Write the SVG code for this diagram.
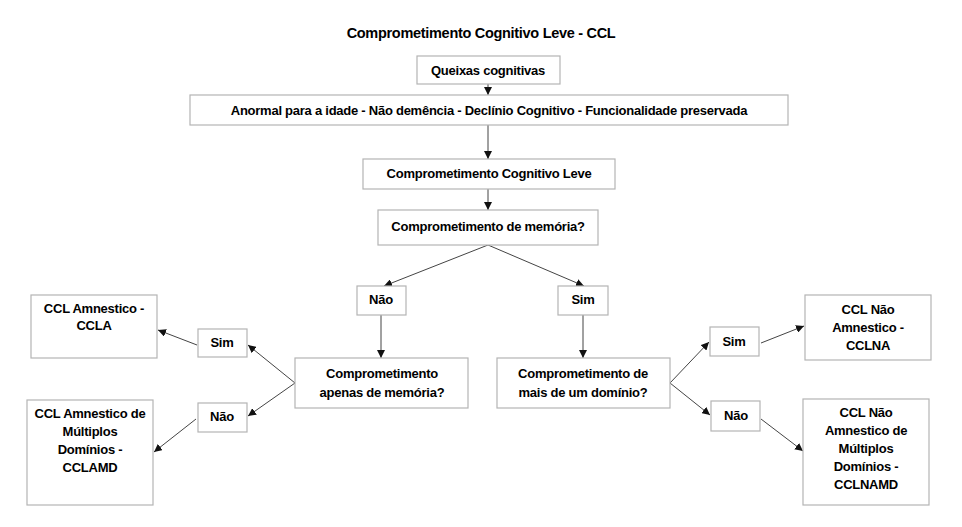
<svg xmlns="http://www.w3.org/2000/svg" width="962" height="527" viewBox="0 0 962 527">
<defs>
<marker id="ah" viewBox="0 0 10 10" refX="10" refY="5" markerWidth="8" markerHeight="8" orient="auto" markerUnits="userSpaceOnUse">
<path d="M0,0 L10,5 L0,10 z" fill="#111"/>
</marker>
</defs>
<style>
.b{fill:#fff;stroke:#b4b4b4;stroke-width:1.2}
.t{font-family:"Liberation Sans",Arial,sans-serif;font-weight:bold;font-size:13px;fill:#000;text-anchor:middle;letter-spacing:-0.25px}
.c{stroke:#444;stroke-width:1;fill:none;marker-end:url(#ah)}
</style>
<rect width="962" height="527" fill="#fff"/>
<text class="t" x="481" y="38" style="font-size:14.5px;letter-spacing:-0.3px">Comprometimento Cognitivo Leve - CCL</text>
<g id="connectors">
<line class="c" x1="488" y1="84" x2="488" y2="95"/>
<line class="c" x1="488" y1="125" x2="488" y2="159"/>
<line class="c" x1="488" y1="189" x2="488" y2="210"/>
<line class="c" x1="488" y1="245" x2="384" y2="286"/>
<line class="c" x1="488" y1="245" x2="584" y2="286"/>
<line class="c" x1="381" y1="315" x2="381" y2="358"/>
<line class="c" x1="583" y1="315" x2="583" y2="358"/>
<line class="c" x1="295" y1="383" x2="248" y2="345"/>
<line class="c" x1="295" y1="383" x2="248" y2="416"/>
<line class="c" x1="197" y1="345" x2="158" y2="330"/>
<line class="c" x1="196" y1="419" x2="154" y2="452"/>
<line class="c" x1="670" y1="383" x2="709" y2="342"/>
<line class="c" x1="670" y1="383" x2="710" y2="415"/>
<line class="c" x1="761" y1="343" x2="804" y2="326"/>
<line class="c" x1="761" y1="419" x2="803" y2="451"/>
</g>
<g id="queixas"><rect class="b" x="417" y="56" width="143" height="28"/><text class="t" x="488" y="75">Queixas cognitivas</text></g>
<g id="anormal"><rect class="b" x="190" y="95" width="598" height="30"/><text class="t" x="489" y="115">Anormal para a idade - Não demência - Declínio Cognitivo - Funcionalidade preservada</text></g>
<g id="ccl"><rect class="b" x="363" y="159" width="252" height="30"/><text class="t" x="489" y="178">Comprometimento Cognitivo Leve</text></g>
<g id="memoria"><rect class="b" x="378" y="210" width="220" height="35"/><text class="t" x="488" y="231">Comprometimento de memória?</text></g>
<g id="nao1"><rect class="b" x="357" y="286" width="49" height="29"/><text class="t" x="381" y="304">Não</text></g>
<g id="sim1"><rect class="b" x="558" y="286" width="50" height="29"/><text class="t" x="583" y="304">Sim</text></g>
<g id="apenas"><rect class="b" x="295" y="358" width="173" height="50"/><text class="t" x="382" y="378">Comprometimento</text><text class="t" x="382" y="397">apenas de memória?</text></g>
<g id="mais"><rect class="b" x="497" y="358" width="173" height="50"/><text class="t" x="583" y="378">Comprometimento de</text><text class="t" x="583" y="397">mais de um domínio?</text></g>
<g id="sim2"><rect class="b" x="198" y="329" width="49" height="28"/><text class="t" x="222" y="347">Sim</text></g>
<g id="nao2"><rect class="b" x="198" y="403" width="49" height="29"/><text class="t" x="222" y="421">Não</text></g>
<g id="ccla"><rect class="b" x="31" y="295" width="126" height="63"/><text class="t" x="94" y="313">CCL Amnestico -</text><text class="t" x="94" y="330">CCLA</text></g>
<g id="cclamd"><rect class="b" x="27" y="400" width="126" height="105"/><text class="t" x="90" y="418">CCL Amnestico de</text><text class="t" x="90" y="436">Múltiplos</text><text class="t" x="90" y="454">Domínios -</text><text class="t" x="90" y="472">CCLAMD</text></g>
<g id="sim3"><rect class="b" x="710" y="327" width="49" height="29"/><text class="t" x="734" y="346">Sim</text></g>
<g id="nao3"><rect class="b" x="711" y="401" width="49" height="30"/><text class="t" x="736" y="420">Não</text></g>
<g id="cclna"><rect class="b" x="805" y="295" width="126" height="65"/><text class="t" x="868" y="314">CCL Não</text><text class="t" x="868" y="332">Amnestico -</text><text class="t" x="868" y="350">CCLNA</text></g>
<g id="cclnamd"><rect class="b" x="803" y="399" width="126" height="106"/><text class="t" x="866" y="417">CCL Não</text><text class="t" x="866" y="435">Amnestico de</text><text class="t" x="866" y="453">Múltiplos</text><text class="t" x="866" y="471">Domínios -</text><text class="t" x="866" y="489">CCLNAMD</text></g>
</svg>
